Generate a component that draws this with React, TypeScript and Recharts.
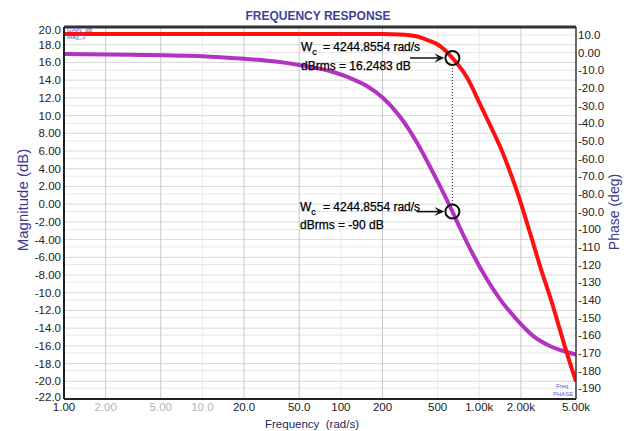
import { ComposedChart, Line, XAxis, YAxis, CartesianGrid, ReferenceLine, ReferenceDot } from 'recharts';

const FREQ_TICKS = [1, 2, 5, 10, 20, 50, 100, 200, 500, 1000, 2000, 5000];
const FADED_FREQ_TICKS = [2, 5, 10];
const DARK_FREQ_GRID = [2, 5, 20, 50, 200, 2000];
const LIGHT_FREQ_GRID = [10, 100, 500, 1000];
const MAG_TICKS = [20, 18, 16, 14, 12, 10, 8, 6, 4, 2, 0, -2, -4, -6, -8, -10, -12, -14, -16, -18, -20, -22];
const PHASE_TICKS = [10, 0, -10, -20, -30, -40, -50, -60, -70, -80, -90, -100, -110, -120, -130, -140, -150, -160, -170, -180, -190];

// magnitude curve (red, left axis)
const magFreq = [1, 20, 100, 200, 268, 351, 418, 522, 640, 812, 1013, 1200, 1414, 1700, 1972, 2200, 2450, 2800, 3240, 3700, 4290, 5000];
const magDb = [19.2, 19.2, 19.2, 19.2, 19.15, 18.95, 18.55, 17.85, 16.5, 14.35, 11.3, 8.9, 6.5, 3.3, 0.4, -2.0, -4.4, -7.4, -10.4, -13.4, -16.8, -20.0];

// phase curve (purple, right axis)
const phaseFreq = [1, 3, 10, 20, 35, 50, 66, 88, 116, 154, 202, 268, 351, 464, 582, 640, 726, 906, 1133, 1414, 1860, 2460, 3240, 4290, 5000];
const phaseDeg = [-0.8, -1.2, -2.0, -3.5, -5.2, -7.0, -8.7, -11.0, -14.3, -18.9, -25.7, -36.3, -50.3, -67.9, -83.2, -90, -99.3, -114.6, -128.2, -139.7, -151, -160.5, -166.1, -169.5, -171];

// cursor markers
const WC_FREQ = 640;
const WC_MAG = 16.5;
const WC_PHASE = -90;

const magData = magFreq.map((f, i) => ({ f, mag: magDb[i] }));
const phaseData = phaseFreq.map((f, i) => ({ f, phase: phaseDeg[i] }));

const TICK_FONT = "'Liberation Sans Narrow', 'Arial Narrow', 'Liberation Sans', Arial, sans-serif";
const FONT = "'Liberation Sans', Arial, sans-serif";

function fmt3(v: number) {
  return v.toPrecision(3);
}

function fmtFreq(v: number) {
  if (v >= 1000) return (v / 1000).toPrecision(3) + 'k';
  return v.toPrecision(3);
}

const FreqTick = ({ x, y, payload }: any) => {
  const faded = FADED_FREQ_TICKS.includes(payload.value);
  return (
    <text x={x} y={y} dy={9} textAnchor="middle" fontSize={11.5} fontFamily={TICK_FONT} fill={faded ? '#b4b4b4' : '#222'}>
      {fmtFreq(payload.value)}
    </text>
  );
};

const MagTick = ({ x, y, payload }: any) => {
  // the edge labels sit a little inside the frame
  const nudge = payload.value === 20 ? 3 : payload.value === -22 ? -2 : 0;
  return (
    <text x={x} y={y + nudge} dy={4} textAnchor="end" fontSize={11.5} fontFamily={TICK_FONT} fill="#222">
      {fmt3(payload.value)}
    </text>
  );
};

const PhaseTick = ({ x, y, payload }: any) => (
  <text x={x} y={y} dy={4} textAnchor="start" fontSize={11.5} fontFamily={TICK_FONT} fill="#222">
    {fmt3(payload.value)}
  </text>
);

const Arrow = (props: any) => {
  const { x1, y1, x2, y2 } = props;
  return (
    <g>
      <line x1={x1} y1={y1} x2={x2 - 3} y2={y2} stroke="#111" strokeWidth={1.6} />
      <path d={`M${x2},${y2} L${x2 - 10},${y2 - 4.5} L${x2 - 6},${y2} L${x2 - 10},${y2 + 4.5} Z`} fill="#111" />
    </g>
  );
};

const noteStyle = { stroke: '#000', strokeWidth: 0.25 };

export default function App() {
  return (
    <div style={{ position: 'absolute', left: 0, top: 0, width: 627, height: 431, background: '#fff' }}>
      <ComposedChart width={627} height={431} margin={{ top: 27, right: 0, bottom: 0, left: 0 }}>
        <CartesianGrid yAxisId="mag" vertical={false} horizontalValues={MAG_TICKS} stroke="#d9d9d9" />
        <CartesianGrid yAxisId="ph" vertical={false} horizontalValues={PHASE_TICKS} stroke="#e8e8e8" />
        <CartesianGrid yAxisId="mag" horizontal={false} verticalValues={DARK_FREQ_GRID} stroke="#c8c8c8" />
        <CartesianGrid yAxisId="mag" horizontal={false} verticalValues={LIGHT_FREQ_GRID} stroke="#ebebeb" />
        <XAxis
          dataKey="f"
          type="number"
          scale="log"
          domain={[1, 5000]}
          ticks={FREQ_TICKS}
          allowDataOverflow
          height={32}
          tickSize={0}
          tickMargin={3}
          tick={<FreqTick />}
          axisLine={{ stroke: '#222', strokeWidth: 2 }}
        />
        <YAxis
          yAxisId="mag"
          orientation="left"
          type="number"
          domain={[-22, 20]}
          ticks={MAG_TICKS}
          interval={0}
          allowDataOverflow
          width={64}
          tickSize={0}
          tickMargin={3}
          tick={<MagTick />}
          axisLine={{ stroke: '#222', strokeWidth: 2 }}
        />
        <YAxis
          yAxisId="ph"
          orientation="right"
          type="number"
          domain={[-196.1, 14.5]}
          ticks={PHASE_TICKS}
          interval={0}
          allowDataOverflow
          width={51}
          tickSize={0}
          tickMargin={2}
          tick={<PhaseTick />}
          axisLine={{ stroke: '#333', strokeWidth: 1.5 }}
        />
        <ReferenceLine yAxisId="mag" y={20} stroke="#333" strokeWidth={3} />
        <Line
          data={phaseData}
          yAxisId="ph"
          dataKey="phase"
          type="monotone"
          stroke="#b233c2"
          strokeWidth={4}
          dot={false}
          isAnimationActive={false}
        />
        <Line
          data={magData}
          yAxisId="mag"
          dataKey="mag"
          type="monotone"
          stroke="#ff1010"
          strokeWidth={4}
          dot={false}
          isAnimationActive={false}
        />
        <ReferenceLine
          yAxisId="mag"
          segment={[{ x: WC_FREQ, y: 15.7 }, { x: WC_FREQ, y: -0.2 }]}
          stroke="#444"
          strokeWidth={1.2}
          strokeDasharray="1 2"
        />
        <ReferenceLine yAxisId="mag" segment={[{ x: 316, y: WC_MAG }, { x: 560, y: WC_MAG }]} shape={<Arrow />} />
        <ReferenceLine yAxisId="ph" segment={[{ x: 353, y: WC_PHASE }, { x: 560, y: WC_PHASE }]} shape={<Arrow />} />
        <ReferenceDot yAxisId="mag" x={WC_FREQ} y={WC_MAG} r={7} fill="none" stroke="#111" strokeWidth={2} />
        <ReferenceDot yAxisId="ph" x={WC_FREQ} y={WC_PHASE} r={7} fill="none" stroke="#111" strokeWidth={2} />
      </ComposedChart>
      <svg width={627} height={431} style={{ position: 'absolute', left: 0, top: 0, pointerEvents: 'none' }}>
        <text x={318} y={20} textAnchor="middle" fontSize={12} fontWeight="bold" fontFamily={FONT} fill="#3f3f9c">
          FREQUENCY RESPONSE
        </text>
        <text transform="translate(28,200) rotate(-90)" textAnchor="middle" fontSize={15} fontFamily={FONT} fill="#3a3a8e">
          Magnitude (dB)
        </text>
        <text transform="translate(619,212) rotate(-90)" textAnchor="middle" fontSize={14} fontFamily={FONT} fill="#3a3a8e">
          Phase (deg)
        </text>
        <text x={312} y={428} textAnchor="middle" fontSize={11.5} fontFamily={FONT} fill="#1f1f5c" xmlSpace="preserve">
          Frequency  (rad/s)
        </text>

        <text x={301} y={51} fontSize={12} fontFamily={FONT} fill="#000" style={noteStyle}>
          W<tspan fontSize={9} dy={4}>c</tspan>
          <tspan x={323} dy={-4}>= 4244.8554 rad/s</tspan>
        </text>
        <text x={301} y={69.5} fontSize={12} fontFamily={FONT} fill="#000" style={noteStyle}>
          dBrms  = 16.2483 dB
        </text>
        <text x={300} y={211} fontSize={12} fontFamily={FONT} fill="#000" style={noteStyle}>
          W<tspan fontSize={9} dy={4}>c</tspan>
          <tspan x={323} dy={-4}>= 4244.8554 rad/s</tspan>
        </text>
        <text x={300} y={228.5} fontSize={12} fontFamily={FONT} fill="#000" style={noteStyle}>
          dBrms  = -90 dB
        </text>

        <text x={67} y={32} fontSize={6} fontFamily={FONT} fill="#5a5acc">GAIN_dB</text>
        <text x={67} y={39} fontSize={6} fontFamily={FONT} fill="#5a5acc">Mag_3</text>
        <text x={556} y={388} fontSize={6} fontFamily={FONT} fill="#5a5acc">Freq</text>
        <text x={553} y={396} fontSize={6} fontFamily={FONT} fill="#5a5acc">PHASE</text>
      </svg>
    </div>
  );
}
